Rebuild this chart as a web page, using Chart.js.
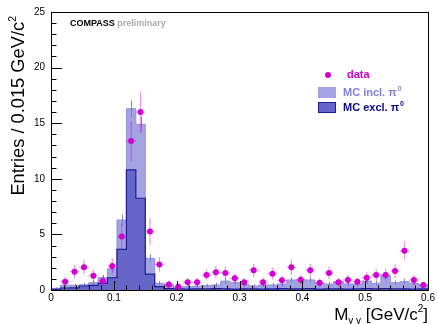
<!DOCTYPE html>
<html>
<head>
<meta charset="utf-8">
<script src="https://cdn.jsdelivr.net/npm/chart.js@4.4.1/dist/chart.umd.min.js"></script>
<style>
html,body{margin:0;padding:0;background:#fff;}
#wrap{width:437px;height:324px;}
</style>
</head>
<body>
<div id="wrap"><canvas id="myChart" width="437" height="324"></canvas></div>
<script>
// 40 bins of 0.015 GeV/c2 between 0 and 0.6
const binLow = 0;
const binWidth = 0.015;

// MC incl. pi0 (light histogram) and its errors
const mcIncl = [0.15, 0.42, 0.42, 0.48, 0.66, 1.1, 1.9, 6.3, 16.3, 14.9,
                2.85, 0.6, 0.45, 0.25, 0.3, 0.35, 0.4, 0.45, 0.8, 0.66,
                0.5, 0.36, 0.45, 0.45, 0.54, 0.9, 0.9, 0.9, 0.6, 0.54,
                0.75, 0.54, 0.54, 0.8, 0.6, 1.3, 0.66, 0.75, 0.6, 0.45];
const mcInclErr = [0.1, 0.15, 0.15, 0.15, 0.2, 0.25, 0.3, 0.5, 0.75, 0.7,
                   0.35, 0.2, 0.15, 0.15, 0.15, 0.15, 0.15, 0.2, 0.25, 0.2,
                   0.2, 0.15, 0.2, 0.2, 0.2, 0.25, 0.25, 0.25, 0.2, 0.2,
                   0.2, 0.2, 0.2, 0.25, 0.2, 0.3, 0.2, 0.25, 0.2, 0.2];

// MC excl. pi0 (dark histogram)
const mcExcl = [0.05, 0.18, 0.2, 0.36, 0.42, 0.6, 1.1, 3.66, 10.8, 8.25,
                1.42, 0.3, 0.12, 0.1, 0.08, 0.1, 0.1, 0.12, 0.1, 0.08,
                0.1, 0.1, 0.08, 0.1, 0.12, 0.1, 0.1, 0.12, 0.08, 0.1,
                0.1, 0.08, 0.1, 0.12, 0.1, 0.12, 0.1, 0.1, 0.08, 0.1];

// data points (bin 0 is empty)
const dataVals = [null, 0.75, 1.65, 2.04, 1.29, 0.81, 2.16, 4.8, 13.4, 16.0,
                  5.25, 2.3, 0.5, 0.3, 0.7, 0.7, 1.35, 1.6, 1.53, 1.05,
                  0.7, 1.77, 0.7, 1.47, 0.87, 2.04, 0.93, 1.77, 0.66, 1.53,
                  0.69, 0.9, 0.75, 1.1, 1.35, 1.35, 1.7, 3.53, 0.9, 0.45];
const dataErr = [0, 0.45, 0.6, 0.65, 0.55, 0.45, 0.7, 1.2, 1.8, 1.85,
                 1.2, 0.65, 0.35, 0.3, 0.4, 0.4, 0.5, 0.55, 0.55, 0.45,
                 0.4, 0.6, 0.4, 0.55, 0.4, 0.7, 0.45, 0.6, 0.4, 0.55,
                 0.4, 0.45, 0.4, 0.5, 0.55, 0.55, 0.6, 0.85, 0.45, 0.3];

const xTickLabels = ['0', '0.1', '0.2', '0.3', '0.4', '0.5', '0.6'];
const yTickLabels = ['0', '5', '10', '15', '20', '25'];

const FONT = '"Liberation Sans", Arial, Helvetica, sans-serif';
const lightFill = 'rgb(163,163,226)';
const lightLine = 'rgb(145,145,218)';
const darkFill = 'rgb(102,102,200)';
const darkLine = 'rgb(28,28,150)';
const magenta = 'rgb(210,0,210)';

const histPoints = (vals)=>{
    let pts = [{x: binLow, y: 0}];
    vals.forEach((v, i)=>pts.push({x: binLow + i * binWidth, y: v}));
    const xEnd = binLow + vals.length * binWidth;
    pts.push({x: xEnd, y: vals[vals.length - 1]});
    pts.push({x: xEnd, y: 0});
    return pts;
};

let dataPts = [];
dataVals.forEach((v, i)=>{
    if (v !== null) dataPts.push({x: binLow + (i + 0.5) * binWidth, y: v, e: dataErr[i]});
});

// draws error bars, frame with inner ticks, titles and legend like ROOT does
const rootStyle = {
    id: 'rootStyle',
    afterDatasetDraw(chart, args){
        if (args.index !== 2) return;
        const ctx = chart.ctx, xs = chart.scales.x, ys = chart.scales.y;
        ctx.save();
        ctx.strokeStyle = 'rgb(125,125,212)';
        ctx.lineWidth = 1;
        mcIncl.forEach((v, i)=>{
            const px = Math.round(xs.getPixelForValue(binLow + (i + 0.5) * binWidth)) + 0.5;
            ctx.beginPath();
            ctx.moveTo(px, ys.getPixelForValue(v + mcInclErr[i]));
            ctx.lineTo(px, ys.getPixelForValue(Math.max(0, v - mcInclErr[i])));
            ctx.stroke();
        });
        ctx.restore();
    },
    beforeDatasetDraw(chart, args){
        if (args.index !== 0) return;
        const ctx = chart.ctx, xs = chart.scales.x, ys = chart.scales.y;
        ctx.save();
        ctx.strokeStyle = 'rgba(210,0,210,0.4)';
        ctx.lineWidth = 1.3;
        dataPts.forEach(p=>{
            const px = xs.getPixelForValue(p.x), py = ys.getPixelForValue(p.y);
            ctx.beginPath();
            ctx.moveTo(px, ys.getPixelForValue(p.y + p.e));
            ctx.lineTo(px, ys.getPixelForValue(Math.max(0, p.y - p.e)));
            ctx.moveTo(xs.getPixelForValue(p.x - binWidth / 2), py);
            ctx.lineTo(xs.getPixelForValue(p.x + binWidth / 2), py);
            ctx.stroke();
        });
        ctx.restore();
    },
    afterDraw(chart){
        const ctx = chart.ctx, xs = chart.scales.x, ys = chart.scales.y;
        const a = chart.chartArea;
        ctx.save();
        ctx.strokeStyle = '#000';
        ctx.lineWidth = 1;
        ctx.strokeRect(Math.round(a.left) + 0.5, Math.round(a.top) + 0.5,
                       Math.round(a.right - a.left), Math.round(a.bottom - a.top));
        ctx.beginPath();
        for (let k = 0; k <= 30; k++){
            const px = Math.round(xs.getPixelForValue(k * 0.02)) + 0.5;
            const len = k % 5 === 0 ? 9 : 4.5;
            ctx.moveTo(px, a.bottom);
            ctx.lineTo(px, a.bottom - len);
        }
        for (let k = 0; k <= 25; k++){
            const py = Math.round(ys.getPixelForValue(k)) + 0.5;
            const len = k % 5 === 0 ? 11 : 5.5;
            ctx.moveTo(a.left, py);
            ctx.lineTo(a.left + len, py);
        }
        ctx.stroke();

        // x title: M_{gamma gamma} [GeV/c^2], right aligned
        ctx.fillStyle = '#000';
        ctx.textBaseline = 'alphabetic';
        ctx.textAlign = 'left';
        const xParts = [['M', 17, 0], ['\u03b3 \u03b3', 10, 4], [' [GeV/c', 17, 0], ['2', 10, -8], [']', 17, 0]];
        let tot = 0;
        xParts.forEach(p=>{ ctx.font = p[1] + 'px ' + FONT; tot += ctx.measureText(p[0]).width; });
        let cx = a.right - tot;
        xParts.forEach(p=>{
            ctx.font = p[1] + 'px ' + FONT;
            ctx.fillText(p[0], cx, 320 + p[2]);
            cx += ctx.measureText(p[0]).width;
        });

        // y title rotated, aligned to the top
        const yParts = [['Entries / 0.015 GeV/c', 18.3, 0], ['2', 10.5, -8.5]];
        tot = 0;
        yParts.forEach(p=>{ ctx.font = p[1] + 'px ' + FONT; tot += ctx.measureText(p[0]).width; });
        ctx.save();
        ctx.translate(24, 16);
        ctx.rotate(-Math.PI / 2);
        let cu = -tot;
        yParts.forEach(p=>{
            ctx.font = p[1] + 'px ' + FONT;
            ctx.fillText(p[0], cu, p[2]);
            cu += ctx.measureText(p[0]).width;
        });
        ctx.restore();

        // COMPASS preliminary
        ctx.font = 'bold 9px ' + FONT;
        ctx.fillStyle = '#000';
        ctx.fillText('COMPASS', 70, 26);
        const w = ctx.measureText('COMPASS ').width;
        ctx.fillStyle = '#aaaaaa';
        ctx.fillText('preliminary', 70 + w, 26);

        // legend
        ctx.textBaseline = 'middle';
        ctx.fillStyle = magenta;
        ctx.beginPath();
        ctx.arc(328, 75, 3, 0, Math.PI * 2);
        ctx.fill();
        ctx.font = 'bold 11px ' + FONT;
        ctx.fillText('data', 347, 75);

        ctx.fillStyle = lightFill;
        ctx.fillRect(318, 87, 18, 11);
        ctx.fillStyle = 'rgb(130,130,215)';
        ctx.font = 'bold 11px ' + FONT;
        ctx.fillText('MC incl. \u03c0', 343, 93);
        let lw = ctx.measureText('MC incl. \u03c0').width;
        ctx.font = 'bold 7px ' + FONT;
        ctx.fillText('0', 343 + lw + 1, 89);

        ctx.fillStyle = darkFill;
        ctx.fillRect(318, 102, 18, 11);
        ctx.strokeStyle = darkLine;
        ctx.strokeRect(318.5, 102.5, 17, 10);
        ctx.fillStyle = 'rgb(10,10,130)';
        ctx.font = 'bold 11px ' + FONT;
        ctx.fillText('MC excl. \u03c0', 343, 108);
        lw = ctx.measureText('MC excl. \u03c0').width;
        ctx.font = 'bold 7px ' + FONT;
        ctx.fillText('0', 343 + lw + 1, 104);
        ctx.restore();
    }
};

window.addEventListener('DOMContentLoaded', (event) => {
    let info = {
        datasets: [{
            label: 'data',
            data: dataPts,
            showLine: false,
            pointRadius: 3,
            pointBackgroundColor: magenta,
            pointBorderWidth: 0,
            order: 0
        }, {
            label: 'MC excl',
            data: histPoints(mcExcl),
            stepped: 'before',
            fill: 'origin',
            backgroundColor: darkFill,
            borderColor: darkLine,
            borderWidth: 1.2,
            pointRadius: 0,
            order: 1
        }, {
            label: 'MC incl',
            data: histPoints(mcIncl),
            stepped: 'before',
            fill: 'origin',
            backgroundColor: lightFill,
            borderColor: lightLine,
            borderWidth: 1,
            pointRadius: 0,
            order: 2
        }]
    };

    let config = {
        type: 'line',
        data: info,
        options: {
            responsive: false,
            animation: false,
            devicePixelRatio: 1,
            layout: {padding: {top: 11, right: 7, left: 0, bottom: 0}},
            plugins: {legend: {display: false}, tooltip: {enabled: false}},
            scales: {
                x: {
                    type: 'linear',
                    min: 0,
                    max: 0.6,
                    grid: {display: false, drawTicks: false},
                    border: {display: false},
                    ticks: {
                        stepSize: 0.1,
                        maxRotation: 0,
                        autoSkip: false,
                        padding: 2,
                        color: '#000',
                        font: {family: FONT, size: 10},
                        callback: (v)=>xTickLabels[Math.round(v * 10)]
                    },
                    afterFit: (s)=>{ s.height = 34; }
                },
                y: {
                    min: 0,
                    max: 25,
                    grid: {display: false, drawTicks: false},
                    border: {display: false},
                    ticks: {
                        stepSize: 5,
                        padding: 6,
                        color: '#000',
                        font: {family: FONT, size: 10},
                        callback: (v)=>yTickLabels[Math.round(v / 5)]
                    },
                    afterFit: (s)=>{ s.width = 51; }
                }
            }
        },
        plugins: [rootStyle]
    };

    myChart = new Chart(document.getElementById('myChart'), config);
});
var myChart;
</script>
</body>
</html>
